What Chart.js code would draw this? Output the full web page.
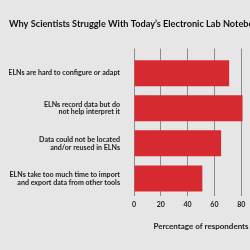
<!DOCTYPE html>
<html>
<head>
<meta charset="utf-8">
<script src="https://cdn.jsdelivr.net/npm/chart.js@4"></script>
<style>
  html, body { margin: 0; padding: 0; background: #e6e6e6; overflow: hidden; }
  #wrap { width: 250px; height: 250px; overflow: hidden; }
</style>
</head>
<body>
<div id="wrap"><canvas id="chart" width="280" height="250"></canvas></div>
<script>
const title = "Why Scientists Struggle With Today\u2019s Electronic Lab Notebooks";
const categories = [
  'ELNs are hard to configure or adapt',
  ['ELNs record data but do', 'not help interpret it'],
  ['Data could not be located', 'and/or reused in ELNs'],
  ['ELNs take too much time to import', 'and export data from other tools']
];
const values = [71, 81, 65, 51];
const xTicks = [0, 20, 40, 60, 80, 100];
const xTitle = 'Percentage of respondents';

const font = '"Lato", "DejaVu Sans", sans-serif';
const textColor = '#222222';
const gridColor = '#8c8c8c';

const ctx = document.getElementById('chart').getContext('2d');
new Chart(ctx, {
  type: 'bar',
  data: {
    labels: categories,
    datasets: [{
      data: values,
      backgroundColor: '#d72a30',
      borderWidth: 0,
      categoryPercentage: 1,
      barPercentage: 0.74
    }]
  },
  options: {
    indexAxis: 'y',
    responsive: false,
    animation: false,
    layout: { padding: { left: 9, right: 12, top: 0, bottom: 19 } },
    plugins: {
      legend: { display: false },
      tooltip: { enabled: false },
      title: {
        display: true,
        text: title,
        align: 'start',
        color: '#111111',
        font: { family: font, size: 10, weight: 'bold' },
        padding: { top: 18, bottom: 12 }
      }
    },
    scales: {
      x: {
        position: 'bottom',
        min: 0,
        max: 100,
        afterBuildTicks: s => { s.ticks = xTicks.map(v => ({ value: v })); },
        border: { display: false },
        grid: { color: gridColor, lineWidth: 1, drawTicks: false },
        ticks: { color: textColor, padding: 5, font: { family: font, size: 7, weight: 'bold' } },
        title: {
          display: true,
          text: xTitle,
          color: textColor,
          padding: { top: 7, bottom: 0 },
          font: { family: font, size: 8, weight: 'bold' }
        }
      },
      x2: {
        position: 'top',
        axis: 'x',
        min: 0,
        max: 100,
        afterBuildTicks: s => { s.ticks = xTicks.map(v => ({ value: v })); },
        afterFit: s => { s.height = 13.6; },
        border: { display: false },
        grid: { color: gridColor, lineWidth: 1, drawOnChartArea: false, tickLength: 7 },
        ticks: { display: false }
      },
      y: {
        afterFit: s => { s.width = 125; },
        border: { display: false },
        grid: { display: false },
        ticks: { color: textColor, padding: 6, font: { family: font, size: 7.1, weight: 'bold', lineHeight: 1.1 } }
      }
    }
  }
});
</script>
</body>
</html>
